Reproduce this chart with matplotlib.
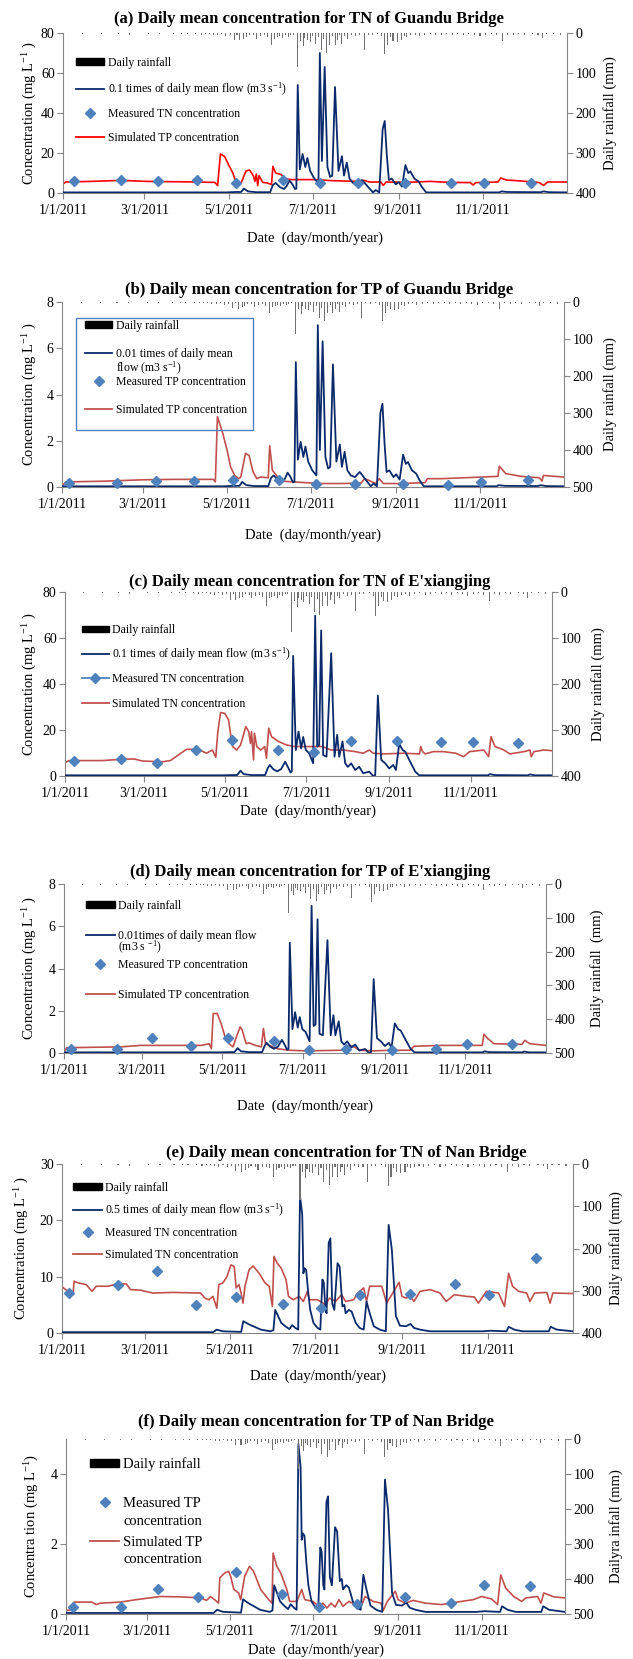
import numpy as np
import pandas as pd
import matplotlib
matplotlib.use("Agg")
import matplotlib.pyplot as plt
from matplotlib.patches import Patch, Rectangle
from matplotlib.lines import Line2D
from matplotlib.legend import Legend
from matplotlib.ticker import FuncFormatter
import matplotlib.dates as mdates

plt.rcParams['font.family'] = ['Liberation Serif', 'DejaVu Serif']
plt.rcParams['mathtext.fontset'] = 'custom'
plt.rcParams['mathtext.rm'] = 'Liberation Serif'
plt.rcParams['mathtext.it'] = 'Liberation Serif:italic'
plt.rcParams['mathtext.bf'] = 'Liberation Serif:bold'

# ---------------- DATA (day = days since 1/1/2011) ----------------
# daily rainfall (mm), same gauge for all panels
rain_days = [5, 14, 22, 28, 35, 40, 48, 52, 58, 62, 66, 70, 75, 80, 83, 86, 90, 93, 96, 100,
             103, 106, 109, 112, 115, 118, 121, 124, 126, 128, 131, 133, 135, 138, 140, 143, 146,
             148, 151, 153, 155, 157, 159, 161, 163, 165, 167, 170, 172, 174, 175, 177, 179, 181,
             183, 185, 187, 189, 191, 193, 195, 197, 199, 200, 202, 204, 206, 209, 212, 215, 218,
             221, 224, 228, 231, 233, 235, 237, 239, 242, 245, 247, 249, 252, 255, 258, 262, 266,
             270, 274, 278, 282, 286, 290, 294, 298, 302, 306, 310, 314, 318, 322, 326, 330, 334,
             340, 344, 347, 350, 355, 360]
rain_mm = [1, 2, 1, 3, 1, 2, 4, 1, 1, 2, 1, 3, 1, 2, 1, 2, 3, 1, 2, 4,
           2, 3, 5, 6, 3, 7, 5, 17, 4, 18, 14, 10, 5, 6, 14, 8, 6,
           10, 31, 14, 10, 8, 12, 6, 9, 5, 4, 86, 20, 33, 12, 18, 22, 8,
           27, 10, 43, 15, 50, 31, 8, 31, 18, 6, 27, 8, 14, 5, 8, 6, 42,
           4, 5, 3, 8, 52, 31, 10, 20, 22, 18, 8, 10, 6, 4, 8, 5, 3,
           6, 4, 3, 5, 2, 6, 3, 5, 8, 4, 3, 6, 19, 4, 6, 3, 5,
           3, 4, 12, 3, 2, 5]

# daily mean flow (m3/s) — (day, flow)
guandu_flow = [(0, 3), (118, 3), (125, 5), (129, 5), (131, 22), (134, 8), (140, 4), (150, 4), (152, 40),
               (154, 50), (157, 30), (160, 20), (162, 35), (164, 62), (166, 45), (168, 20), (169, 22),
               (170, 540), (171.5, 118), (173.5, 195), (175.5, 130), (177, 175), (179, 110), (182, 72),
               (185, 50), (186, 700), (187.5, 160), (189.5, 630), (191.5, 130), (193.5, 80), (195, 87),
               (197, 530), (199.5, 110), (202, 184), (203.5, 87), (205.5, 152), (207.5, 72), (210, 50),
               (213, 43), (216.5, 65), (218.5, 50), (221.5, 26), (224.5, 3), (226.5, 15), (229, 3),
               (231.5, 320), (233, 360), (234.5, 190), (236, 65), (238, 72), (241, 43), (243, 55),
               (245.5, 32), (248, 140), (250, 100), (251.5, 108), (254.5, 72), (257.5, 58), (260, 29),
               (263, 3), (316, 3), (317.5, 8), (322, 5), (346, 4), (348, 8), (352, 4), (365, 3)]
exj_flow = [(0, 3), (118, 3), (126, 4), (129, 4), (131.5, 23), (134, 8), (140, 4), (150, 4), (152, 35),
            (153.5, 48), (156, 30), (159, 20), (162, 30), (165, 62), (167, 40), (169, 15), (170, 20),
            (171, 522), (173, 113), (175, 193), (177, 120), (178.5, 170), (180.5, 113), (183, 99),
            (186, 55), (187.5, 697), (189, 128), (190.5, 135), (192, 633), (193.5, 91), (196, 84),
            (199.5, 534), (202, 84), (204, 179), (205.5, 84), (208, 150), (210, 55), (212, 40),
            (214.5, 55), (217.5, 26), (220.5, 40), (223.5, 12), (228, 19), (231, 0), (232.5, 4),
            (234.5, 350), (237, 70), (240, 55), (243, 33), (246, 48), (248, 26), (250.5, 140),
            (253, 113), (255, 106), (258, 70), (262.5, 19), (265.5, 3), (317, 3), (318.5, 8), (322, 4),
            (347, 3), (348.5, 7), (352, 3), (365, 3)]
nan_flow = [(0, 0.3), (108, 0.3), (110.5, 1.2), (115, 0.6), (128, 0.4), (129.5, 4.2), (133, 3.2),
            (142, 1.2), (149, 0.6), (151, 1.0), (152.3, 8.2), (156.6, 3.6), (159.5, 2.4), (162.4, 1.4),
            (164.4, 2.8), (166.7, 1.8), (168.7, 1.2), (170, 48.6), (171.6, 42), (172.4, 21.2),
            (173.3, 23), (174.4, 22.4), (175.9, 14.2), (177.3, 8.2), (179.6, 3.6), (182.5, 1.8),
            (184.5, 1.2), (186, 19), (187, 17.8), (188.2, 8.2), (189, 7), (190.5, 32), (191.7, 33.6),
            (193, 10.6), (194.5, 8.2), (196.8, 24.8), (198.3, 23.6), (200.3, 9.4), (201.7, 10),
            (202.6, 7), (204.9, 8.2), (206.9, 7.6), (209.8, 3.6), (212.6, 1.8), (215.5, 1.2),
            (217.5, 11.2), (219.8, 7), (222.7, 2.4), (227, 1.2), (231.3, 0.6), (233.3, 38.4),
            (235.6, 29.6), (238.5, 6), (241.4, 2.6), (245.7, 2.4), (248, 3), (249, 3.2), (251.4, 1.8),
            (255.7, 1.2), (262.9, 0.6), (300, 0.6), (306, 0.8), (317.5, 0.6), (319, 2.2), (323, 1.2),
            (329, 0.6), (347.7, 0.6), (349, 2.2), (353.4, 1.2), (365, 0.6)]

# simulated concentrations (mg/L) — (day, value)
guandu_tn_sim = [(0, 4.5), (2, 5.5), (20, 5.8), (42, 6.3), (61, 5.8), (97, 5.5), (110, 5.3), (112, 3.7),
                 (114, 19.5), (117, 18.3), (120, 14), (123, 10), (125, 5.8), (129, 5), (132.5, 11),
                 (135, 11.5), (136.6, 10), (138, 8.3), (139, 5.8), (140, 9.5), (141, 3.7), (142, 8.7),
                 (144.6, 5.3), (148, 5), (151, 4.2), (152, 13.3), (154, 10), (158, 9.2), (161, 7),
                 (165, 6.7), (182, 6.7), (194, 6.2), (213, 5.8), (218, 6.3), (222, 5.5), (230, 5.5),
                 (232, 3.8), (234, 5.5), (248, 5.3), (266, 5.8), (280, 5.3), (295, 5.2), (297, 4),
                 (299, 5.2), (315, 5.5), (317, 7.5), (321, 6.5), (332, 6), (345, 5.2), (348, 3.8),
                 (351, 5.5), (365, 5.5)]
guandu_tp_sim = [(0, 0.05), (3, 0.22), (30, 0.25), (58, 0.31), (80, 0.33), (110, 0.33), (111.5, 0.22),
                 (113, 3.04), (117, 2.3), (120, 1.6), (122.6, 0.87), (125.5, 0.5), (128.5, 0.36),
                 (130, 0.43), (133.4, 1.45), (136, 1.37), (138, 0.87), (139, 0.65), (141.6, 0.36),
                 (144.5, 0.43), (150, 0.4), (151, 1.78), (153, 0.72), (156, 0.5), (159, 0.26), (168, 0.22),
                 (176.6, 0.19), (188, 0.15), (203, 0.15), (217.5, 0.17), (220, 0.36), (223, 0.29),
                 (228, 0.15), (230.7, 0.36), (233.6, 0.15), (246.7, 0.15), (264, 0.19), (265.7, 0.36),
                 (276, 0.36), (305, 0.43), (317, 0.46), (318, 0.9), (322.6, 0.58), (334, 0.46), (347, 0.4),
                 (349, 0.26), (350, 0.5), (365, 0.43)]
exj_tn_sim = [(0, 5.8), (3, 6.7), (28, 6.7), (43, 7.3), (52, 7.4), (58, 6.5), (73, 6.2), (79, 6.7),
              (91, 11.6), (100, 11.6), (106, 9.9), (110.5, 11.3), (113, 8.1), (114.5, 19), (116.6, 27.6),
              (119.6, 27.3), (122.6, 24.4), (124, 18.6), (125.6, 12.8), (128.6, 11.3), (131.6, 13.5),
              (135.5, 21.5), (137.7, 19.3), (139, 14.2), (139.8, 19.3), (141.3, 7), (142, 18.6),
              (143.7, 12.8), (146.7, 11.3), (149.7, 12.8), (151, 7.7), (152.7, 20.8), (154.8, 17.1),
              (160, 15), (166, 13.5), (172, 12.8), (193, 12.8), (199.4, 11.3), (208.4, 11.3),
              (217.5, 10.6), (223.5, 9.9), (228, 11.3), (231, 9.9), (238.5, 9.6), (253.6, 9.9),
              (265.7, 9.6), (266.6, 12.8), (268, 10.6), (270, 9.6), (276, 10.6), (283.7, 10.6),
              (292.8, 9.9), (298.8, 8.4), (303.3, 10.6), (313.9, 11.3), (317.5, 8.4), (319.3, 17.1),
              (322.3, 12.8), (329, 11.3), (333.4, 9.6), (344, 10.6), (348.5, 11.3), (349.4, 8.4),
              (351.5, 10.6), (359, 11.3), (365, 11)]
exj_tp_sim = [(0, 0.05), (2, 0.25), (43, 0.29), (58, 0.36), (104, 0.36), (110, 0.44), (111.6, 0.2),
              (113, 1.87), (116, 1.87), (119, 1.39), (122, 0.76), (125, 0.44), (128, 0.29), (131, 0.84),
              (133.4, 1.24), (135, 1.08), (136.8, 0.68), (138, 0.44), (140, 0.48), (145, 0.36),
              (149.5, 0.29), (151, 1.16), (152.6, 0.44), (155.6, 0.36), (161.7, 0.2), (170.8, 0.13),
              (183, 0.1), (210, 0.13), (216.4, 0.36), (219.5, 0.29), (224, 0.13), (234.6, 0.1),
              (246.8, 0.13), (262, 0.13), (265, 0.32), (286, 0.36), (316.7, 0.36), (318, 0.89),
              (321, 0.68), (325.6, 0.44), (346.8, 0.41), (349, 0.6), (352.7, 0.44), (365, 0.36)]
nan_tn_sim = [(0, 8.2), (4.3, 7.4), (8, 7.2), (8.6, 9.2), (11.5, 8.9), (17.2, 8.6), (21.5, 7.4),
              (24.4, 8.3), (33, 8.3), (38.8, 8.7), (46, 8.7), (48.9, 7.7), (56, 7.6), (64.7, 7.1),
              (79, 7.2), (99, 7.1), (102, 6.2), (104.9, 5.9), (107.8, 6.5), (110.6, 4.4), (112, 8.6),
              (115, 8.9), (117.8, 10), (120.7, 12.1), (123, 11.8), (124.4, 8), (126.4, 8.6), (127.9, 7.1),
              (129.3, 5.3), (130.7, 8.3), (133.6, 11.2), (136.5, 11.9), (140.8, 10.6), (145, 8.9),
              (148, 8.3), (150.3, 4.7), (151.4, 13.6), (153.7, 12.4), (156.6, 11.5), (160, 9.5),
              (161.8, 6.5), (165.2, 5.9), (169.5, 6.5), (172.4, 5.6), (175.3, 7.4), (176.7, 5.9),
              (182.5, 5.9), (188.2, 5), (191.1, 6.2), (195.4, 5.6), (199.7, 6.8), (202.6, 5.6),
              (208.3, 5.9), (211.2, 7.1), (215.5, 8), (217.5, 5.6), (219.8, 8.3), (228.4, 8.3),
              (231.9, 5.3), (237, 7.4), (240.8, 9), (242.8, 6.5), (245.7, 6.2), (248.6, 6.5),
              (251.4, 5.6), (255.7, 7.4), (262.9, 7.7), (270, 7.1), (274.4, 5.6), (280.2, 6.8),
              (288.8, 6.5), (294.5, 6.4), (297.4, 5.3), (303.2, 7.4), (311.8, 7.1), (316.1, 4.7),
              (319, 10.6), (321.8, 8.3), (326.1, 7.4), (331.9, 7.1), (334.2, 5.6), (337.6, 7.1),
              (346.3, 7.2), (348.6, 5.3), (350.6, 7.1), (365, 7)]
nan_tp_sim = [(0, 0.1), (4.4, 0.12), (5.9, 0.34), (19, 0.34), (22, 0.27), (25, 0.31), (39.6, 0.34),
              (51.4, 0.41), (69, 0.5), (83.7, 0.49), (98.4, 0.46), (102.8, 0.39), (105.7, 0.5),
              (108.7, 0.41), (111.6, 0.31), (112.5, 1.03), (116, 1.17), (119, 1.22), (120.4, 1.08),
              (122.8, 0.7), (126.3, 0.6), (127.8, 0.41), (130.7, 1.08), (134.2, 1.36), (137.2, 1.22),
              (142.4, 0.7), (148.3, 0.41), (150.7, 0.31), (151.5, 1.74), (154.2, 1.36), (157.1, 1.17),
              (161.5, 0.7), (163.6, 0.36), (168.9, 0.36), (172.4, 0.7), (174.7, 0.41), (180.6, 0.36),
              (185, 0.22), (188, 0.31), (190.9, 0.17), (193.8, 0.31), (196.8, 0.2), (199.7, 0.41),
              (202.6, 0.22), (207, 0.36), (211.5, 0.27), (215.9, 0.22), (218.8, 0.5), (224.7, 0.36),
              (230.5, 0.31), (232, 0.1), (235, 0.36), (240.8, 0.65), (242.9, 0.41), (248.2, 0.31),
              (254, 0.39), (262.8, 0.31), (274.6, 0.27), (289.3, 0.36), (298, 0.41), (304, 0.5),
              (311.3, 0.43), (315.7, 0.27), (318, 1.12), (321.6, 0.74), (327.5, 0.5), (333.3, 0.36),
              (336.3, 0.46), (345, 0.5), (347.4, 0.31), (349.5, 0.6), (356.8, 0.49), (365, 0.46)]

# measured concentrations (mg/L)
guandu_tn_obs_days = [8, 42, 69, 97, 125, 159, 186, 214, 248, 281, 305, 339]
guandu_tn_obs = [5.8, 6.3, 5.8, 6.7, 5.2, 6.7, 5.2, 5.2, 5.2, 5.0, 5.0, 5.0]
guandu_tp_obs_days = [5, 40, 68, 96, 124, 158, 185, 213, 248, 281, 305, 339]
guandu_tp_obs = [0.19, 0.19, 0.25, 0.25, 0.29, 0.29, 0.12, 0.14, 0.12, 0.07, 0.22, 0.29]
exj_tn_obs_days = [7, 42, 69, 98, 125.5, 159.5, 186.5, 214, 249, 281.5, 305.5, 339.5]
exj_tn_obs = [6.7, 7.4, 5.5, 11.3, 15.7, 11.3, 10.4, 15.2, 15.0, 14.7, 14.7, 14.5]
exj_tp_obs_days = [5, 40, 67, 96, 124, 158.7, 185.4, 213.4, 248.3, 281.8, 305.5, 339.5]
exj_tp_obs = [0.2, 0.2, 0.71, 0.32, 0.71, 0.57, 0.16, 0.2, 0.13, 0.2, 0.44, 0.44]
nan_tn_obs_days = [5, 40, 67.5, 96, 124.4, 158, 184.8, 213.2, 248.6, 281, 305.2, 338.5]
nan_tn_obs = [7.1, 8.6, 11.0, 5.0, 6.4, 5.2, 4.5, 6.7, 6.9, 8.7, 6.7, 13.4]
nan_tp_obs_days = [5.3, 40.5, 67.5, 96.3, 124.2, 158, 185, 213, 248.2, 281.4, 305.4, 339.2]
nan_tp_obs = [0.19, 0.2, 0.71, 0.49, 1.19, 0.58, 0.2, 0.3, 0.49, 0.31, 0.84, 0.79]

# ---------------- STYLE / LAYOUT ----------------
W, H = 633, 1659
NAVY = '#0B2A6B'
BLUE = '#4F81BD'
RED_A = '#FF0000'
RED = '#C0504D'
GREY = '#868686'
RAIN_C = '#707070'

base = pd.Timestamp('2011-01-01')


def to_dates(days):
    return base + pd.to_timedelta(np.asarray(days, dtype=float), unit='D')


def unzip(pairs):
    d, v = zip(*pairs)
    return list(d), list(v)


tick_dates = pd.date_range('2011-01-01', periods=6, freq='2MS')
fmt = FuncFormatter(lambda v, p: "{0.month}/{0.day}/{0.year}".format(mdates.num2date(v)))

fig = plt.figure(figsize=(W / 100, H / 100), dpi=100)


def entry(ax, handle, label, x, y, fs, hl):
    leg = Legend(ax, [handle], [label], loc='center left', bbox_to_anchor=(x, y),
                 bbox_transform=ax.transAxes, frameon=False, fontsize=fs,
                 handlelength=hl, handletextpad=0.3, handleheight=0.5,
                 borderpad=0, borderaxespad=0, numpoints=1)
    ax.add_artist(leg)


BLANK = 'blank'

panels = [
    dict(box=(63, 567, 33, 193), title="(a) Daily mean concentration for TN of Guandu Bridge",
         title_xy=(309, 19), flow=guandu_flow, fscale=0.1, sim=guandu_tn_sim, simc=RED_A,
         od=guandu_tn_obs_days, ov=guandu_tn_obs, ylim=80, yt=[0, 20, 40, 60, 80], rlim=400,
         ylab="Concentration (mg L$^{-1}$ )", rlab="Daily rainfall (mm)", ylx=30, rlx=610, xly=238,
         legend=[('rain', "Daily rainfall", 0.8125),
                 ('flow', "0.1 times of daily mean flow (m3 s$^{-1}$)", 0.65),
                 ('obs', "Measured TN concentration", 0.494),
                 ('sim', "Simulated TP concentration", 0.344)],
         lx=0.026, fs=8.5, hl=2.4, obsline=False),
    dict(box=(62, 564, 302, 487), title="(b) Daily mean concentration for TP of Guandu Bridge",
         title_xy=(319, 290), flow=guandu_flow, fscale=0.01, sim=guandu_tp_sim, simc=RED,
         od=guandu_tp_obs_days, ov=guandu_tp_obs, ylim=8, yt=[0, 2, 4, 6, 8], rlim=500,
         ylab="Concentration (mg L$^{-1}$ )", rlab="Daily rainfall (mm)", ylx=30, rlx=610, xly=535,
         legend=[('rain', "Daily rainfall", 0.870),
                 ('flow', "0.01 times of daily mean", 0.719),
                 (BLANK, "flow (m3 s$^{-1}$)", 0.638),
                 ('obs', "Measured TP concentration", 0.568),
                 ('sim', "Simulated TP concentration", 0.416)],
         lx=0.046, fs=8.5, hl=2.3, obsline=False,
         frame=(0.028, 0.308, 0.352, 0.606)),
    dict(box=(65, 552, 592, 776), title="(c) Daily mean concentration for TN of E'xiangjing",
         title_xy=(310, 582), flow=exj_flow, fscale=0.1, sim=exj_tn_sim, simc=RED,
         od=exj_tn_obs_days, ov=exj_tn_obs, ylim=80, yt=[0, 20, 40, 60, 80], rlim=400,
         ylab="Concentration (mg L$^{-1}$ )", rlab="Daily rainfall (mm)", ylx=30, rlx=598, xly=811,
         legend=[('rain', "Daily rainfall", 0.793),
                 ('flow', "0.1 times of daily mean flow (m3 s$^{-1}$)", 0.663),
                 ('obs', "Measured TN concentration", 0.527),
                 ('sim', "Simulated TN concentration", 0.391)],
         lx=0.034, fs=8.5, hl=2.3, obsline=True),
    dict(box=(64, 546, 884, 1053), title="(d) Daily mean concentration for TP of E'xiangjing",
         title_xy=(310, 872), flow=exj_flow, fscale=0.01, sim=exj_tp_sim, simc=RED,
         od=exj_tp_obs_days, ov=exj_tp_obs, ylim=8, yt=[0, 2, 4, 6, 8], rlim=500,
         ylab="Concentration (mg L$^{-1}$ )", rlab="Daily rainfall  (mm)", ylx=30, rlx=597, xly=1106,
         legend=[('rain', "Daily rainfall", 0.870),
                 ('flow', "0.01times of daily mean flow", 0.695),
                 (BLANK, "(m3 s $^{-1}$)", 0.622),
                 ('obs', "Measured TP concentration", 0.521),
                 ('sim', "Simulated TP concentration", 0.343)],
         lx=0.046, fs=8.5, hl=2.4, obsline=False),
    dict(box=(62, 573, 1164, 1333), title="(e) Daily mean concentration for TN of Nan Bridge",
         title_xy=(346, 1153), flow=nan_flow, fscale=0.5, sim=nan_tn_sim, simc=RED,
         od=nan_tn_obs_days, ov=nan_tn_obs, ylim=30, yt=[0, 10, 20, 30], rlim=400,
         ylab="Concentration (mg L$^{-1}$ )", rlab="Daily rainfall (mm)", ylx=22, rlx=616, xly=1376,
         legend=[('rain', "Daily rainfall", 0.858),
                 ('flow', "0.5 times of daily mean flow (m3 s$^{-1}$)", 0.728),
                 ('obs', "Measured TN concentration", 0.592),
                 ('sim', "Simulated TN concentration", 0.462)],
         lx=0.0225, fs=8.5, hl=2.4, obsline=False),
    dict(box=(66, 565, 1439, 1614), title="(f) Daily mean concentration for TP of Nan Bridge",
         title_xy=(316, 1422), flow=nan_flow, fscale=0.1, sim=nan_tp_sim, simc=RED,
         od=nan_tp_obs_days, ov=nan_tp_obs, ylim=5, yt=[0, 2, 4], rlim=500,
         ylab="Concentra tion (mg L$^{-1}$)", rlab="Dailyra infall (mm)", ylx=32, rlx=616, xly=1650,
         legend=[('rain', "Daily rainfall", 0.857),
                 ('obs', "Measured TP", 0.634),
                 (BLANK, "concentration", 0.526),
                 ('sim', "Simulated TP", 0.411),
                 (BLANK, "concentration", 0.309)],
         lx=0.048, fs=10.5, hl=2.0, obsline=False),
]

for p in panels:
    l, r, t, b = p['box']
    ax = fig.add_axes([l / W, 1 - b / H, (r - l) / W, (b - t) / H])
    ax2 = ax.twinx()

    # rainfall hanging from the top
    ax2.bar(to_dates(rain_days), rain_mm, width=0.75, color=RAIN_C, linewidth=0)
    ax2.set_ylim(p['rlim'], 0)
    ax2.set_yticks(list(range(0, p['rlim'] + 1, 100)))

    fd, fq = unzip(p['flow'])
    ax.plot(to_dates(fd), np.asarray(fq) * p['fscale'], color=NAVY, lw=1.3, zorder=3)
    sd, sv = unzip(p['sim'])
    ax.plot(to_dates(sd), sv, color=p['simc'], lw=1.2, zorder=2)
    ax.plot(to_dates(p['od']), p['ov'], ls='none', marker='D', ms=5, color=BLUE,
            markeredgecolor=BLUE, zorder=5, clip_on=False)

    ax.set_ylim(0, p['ylim'])
    ax.set_yticks(p['yt'])
    ax.set_xlim(to_dates([0])[0], to_dates([365])[0])
    ax.set_xticks(tick_dates)
    ax.xaxis.set_major_formatter(fmt)

    for s in ['top', 'right']:
        ax.spines[s].set_visible(False)
    for s in ['top', 'left', 'bottom']:
        ax2.spines[s].set_visible(False)
    for s in ['left', 'bottom']:
        ax.spines[s].set_color(GREY)
    ax2.spines['right'].set_color(GREY)
    ax.tick_params(axis='both', direction='out', length=4, color=GREY, labelsize=10)
    ax.tick_params(axis='x', pad=4)
    ax.tick_params(axis='y', pad=2)
    ax2.tick_params(axis='y', direction='out', length=4, color=GREY, labelsize=10, pad=2)

    wpx, hpx = r - l, b - t
    ax.set_ylabel(p['ylab'], fontsize=10.5, va='center')
    ax.yaxis.set_label_coords((p['ylx'] - l) / wpx, 0.5)
    ax2.set_ylabel(p['rlab'], fontsize=10.5, va='center')
    ax2.yaxis.set_label_coords((p['rlx'] - l) / wpx, 0.5)
    ax.set_xlabel("Date  (day/month/year)", fontsize=10.5, va='center')
    ax.xaxis.set_label_coords(0.5, -(p['xly'] - b) / hpx)

    fig.text(p['title_xy'][0] / W, 1 - p['title_xy'][1] / H, p['title'], ha='center', va='center',
             fontsize=12, fontweight='bold')

    handles = {'rain': Patch(facecolor='black', edgecolor='black'),
               'flow': Line2D([], [], color=NAVY, lw=1.3),
               'obs': Line2D([], [], color=BLUE, marker='D', ms=5,
                             ls='-' if p['obsline'] else 'none', lw=1.3),
               'sim': Line2D([], [], color=p['simc'], lw=1.3),
               BLANK: Line2D([], [], ls='none')}
    for key, lab, yy in p['legend']:
        entry(ax2, handles[key], lab, p['lx'], yy, p['fs'], p['hl'])
    if 'frame' in p:
        fx, fy, fw, fh = p['frame']
        ax2.add_patch(Rectangle((fx, fy), fw, fh, transform=ax2.transAxes, fill=False,
                                edgecolor=BLUE, lw=1.0, clip_on=False))

fig.savefig("out.png", dpi=100)
